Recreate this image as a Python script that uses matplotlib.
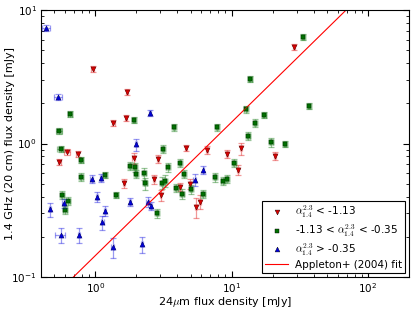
import numpy as np
import matplotlib
matplotlib.use("Agg")
import matplotlib.pyplot as plt
from matplotlib.lines import Line2D

plt.rcParams['mathtext.fontset'] = 'cm'
plt.rcParams['font.family'] = ['DejaVu Sans']

# alpha < -1.13 (red)
red_x = [0.955, 1.70, 1.36, 1.69, 0.619, 0.741, 0.544, 1.91, 1.63, 4.61, 6.58, 9.19,
         11.7, 2.87, 11.1, 2.70, 4.94, 4.20, 3.01, 5.50, 5.89, 28.7, 20.9]
red_y = [3.60, 2.42, 1.43, 1.545, 0.868, 0.834, 0.731, 0.775, 0.503, 0.921, 0.894, 0.839,
         0.921, 0.769, 0.633, 0.539, 0.497, 0.475, 0.409, 0.333, 0.366, 5.26, 0.806]
red_yerr = [0.19, 0.13, 0.075, 0.08, 0.045, 0.044, 0.038, 0.067, 0.035, 0.048, 0.062, 0.058,
            0.096, 0.054, 0.055, 0.038, 0.043, 0.033, 0.036, 0.058, 0.045, 0.27, 0.056]
red_xerr = [0.02, 0.03, 0.03, 0.03, 0.032, 0.02, 0.015, 0.04, 0.03, 0.08, 0.1, 0.15,
            0.2, 0.05, 0.2, 0.05, 0.08, 0.07, 0.05, 0.09, 0.1, 0.5, 0.35]

# -1.13 < alpha < -0.35 (green)
green_x = [0.655, 0.546, 1.93, 0.556, 0.789, 0.789, 1.17, 1.80, 1.96, 1.99, 0.575, 0.633,
           0.599, 1.43, 13.7, 12.7, 17.4, 14.8, 3.79, 7.85, 3.16, 13.3, 19.6, 24.7,
           3.40, 4.20, 10.5, 4.46, 2.29, 2.33, 3.07, 3.25, 7.54, 8.59, 9.24, 3.94,
           4.36, 5.02, 6.22, 2.84, 33.4, 37.0]
green_y = [1.66, 1.24, 1.50, 0.910, 0.752, 0.564, 0.581, 0.682, 0.663, 0.588, 0.411, 0.371,
           0.316, 0.411, 3.03, 1.80, 1.635, 1.43, 1.32, 1.32, 0.910, 1.14, 1.02, 0.986,
           0.663, 0.711, 0.718, 0.594, 0.598, 0.503, 0.508, 0.524, 0.558, 0.524, 0.539, 0.467,
           0.421, 0.454, 0.419, 0.300, 6.25, 1.91]
green_yerr = [0.087, 0.065, 0.078, 0.048, 0.039, 0.039, 0.03, 0.047, 0.046, 0.041, 0.029, 0.026,
              0.022, 0.021, 0.16, 0.094, 0.085, 0.10, 0.069, 0.069, 0.063, 0.079, 0.071, 0.051,
              0.046, 0.049, 0.05, 0.041, 0.062, 0.052, 0.053, 0.055, 0.039, 0.036, 0.037, 0.032,
              0.037, 0.032, 0.029, 0.021, 0.33, 0.10]
green_xerr = [0.025, 0.028, 0.04, 0.028, 0.02, 0.02, 0.03, 0.04, 0.04, 0.04, 0.015, 0.02,
              0.02, 0.03, 0.3, 0.3, 0.4, 0.3, 0.08, 0.15, 0.06, 0.3, 0.4, 0.5,
              0.07, 0.08, 0.2, 0.09, 0.05, 0.05, 0.06, 0.06, 0.15, 0.17, 0.18, 0.08,
              0.09, 0.1, 0.12, 0.06, 0.7, 0.8]

# alpha > -0.35 (blue)
blue_x = [0.434, 0.532, 1.99, 2.51, 0.939, 1.107, 0.585, 0.465, 1.03, 1.80, 1.18, 1.13,
          0.556, 0.763, 1.34, 2.19, 6.22, 5.35, 2.42, 2.57]
blue_y = [7.29, 2.24, 0.986, 1.70, 0.542, 0.554, 0.356, 0.321, 0.399, 0.366, 0.314, 0.257,
          0.206, 0.206, 0.167, 0.176, 0.633, 0.533, 0.366, 0.342]
blue_yerr = [0.38, 0.12, 0.10, 0.089, 0.038, 0.039, 0.025, 0.039, 0.035, 0.025, 0.027, 0.031,
             0.025, 0.025, 0.029, 0.025, 0.044, 0.056, 0.032, 0.024]
blue_xerr = [0.03, 0.036, 0.04, 0.05, 0.02, 0.02, 0.015, 0.01, 0.02, 0.04, 0.02, 0.02,
             0.047, 0.015, 0.03, 0.04, 0.1, 0.1, 0.05, 0.05]

# Appleton+ (2004): q24 = log(S24/S1.4) = 0.84
q24 = 0.84
fit_x = np.array([0.1, 1000.0])

fig = plt.figure(figsize=(4.15, 3.13), dpi=100)
ax = fig.add_axes([0.0988, 0.115, 0.8867, 0.853])

groups = [
    (red_x, red_y, red_xerr, red_yerr, 'v', '#dd0000'),
    (green_x, green_y, green_xerr, green_yerr, 's', '#007000'),
    (blue_x, blue_y, blue_xerr, blue_yerr, '^', '#0000dd'),
]
for gx, gy, gxe, gye, mk, col in groups:
    ax.errorbar(gx, gy, xerr=gxe, yerr=gye, fmt=mk, color=col, alpha=0.4,
                ms=5, mec='none', capsize=2.2, elinewidth=0.9, capthick=0.9)
    ax.plot(gx, gy, mk, color=col, ms=3.5, mec='k', mew=0.3, ls='none')

ax.plot(fit_x, fit_x / 10**q24, color='red', lw=0.8)

ax.set_xscale('log')
ax.set_yscale('log')
ax.set_xlim(0.4, 200)
ax.set_ylim(0.1, 10)
ax.tick_params(which='both', direction='in', top=True, right=True, labelsize=7.5, pad=3)
ax.tick_params(which='major', length=4)
ax.tick_params(which='minor', length=2)
ax.set_xlabel(r'24$\mu$m flux density [mJy]', fontsize=8, labelpad=0)
ax.set_ylabel('1.4 GHz (20 cm) flux density [mJy]', fontsize=8)
ax.yaxis.set_label_coords(-0.072, 0.5)

handles = [
    Line2D([], [], marker='v', color='#dd0000', ls='none', ms=3.5, mec='k', mew=0.3),
    Line2D([], [], marker='s', color='#007000', ls='none', ms=3.5, mec='k', mew=0.3),
    Line2D([], [], marker='^', color='#0000dd', ls='none', ms=3.5, mec='k', mew=0.3),
    Line2D([], [], color='red', lw=0.8),
]
labels = [r'$\alpha_{1.4}^{2.3}$ < -1.13',
          r'-1.13 < $\alpha_{1.4}^{2.3}$ < -0.35',
          r'$\alpha_{1.4}^{2.3}$ > -0.35',
          'Appleton+ (2004) fit']
leg = ax.legend(handles, labels, loc='lower right', fontsize=7.5, fancybox=False,
                framealpha=1, edgecolor='k', numpoints=1, borderaxespad=0.4,
                handlelength=2.2, labelspacing=0.2, borderpad=0.3, handletextpad=0.6)
leg.get_frame().set_linewidth(0.8)

fig.savefig('out.png', dpi=100)
